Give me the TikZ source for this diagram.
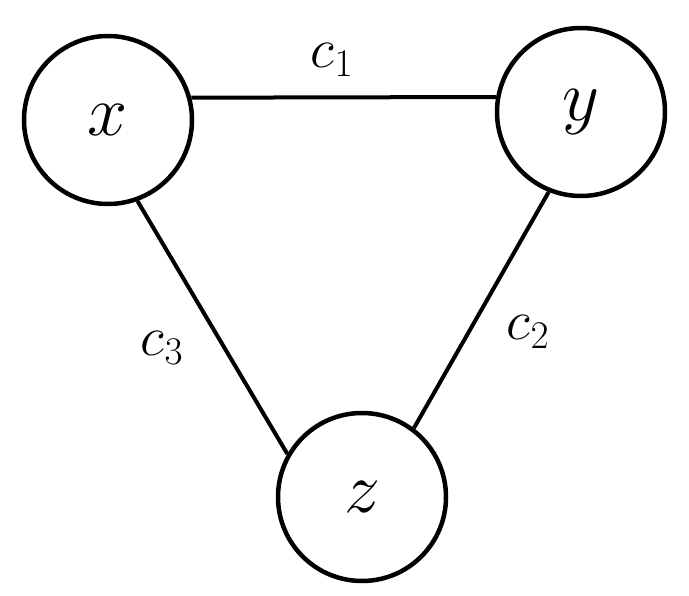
\documentclass[tikz,border=0pt]{standalone}
\usepackage{fix-cm}
\begin{document}
\begin{tikzpicture}[x=1pt,y=-1pt,
  vert/.style={circle,draw,line width=4.5pt,minimum size=168pt,inner sep=0pt,font=\fontsize{72}{72}\selectfont},
  edge/.style={line width=4pt},
  lab/.style={font=\fontsize{56}{56}\selectfont}]
\useasboundingbox (0,0) rectangle (689,596);
\node[vert] (x) at (108,120) {$x$};
\node[vert] (y) at (581,112) {$y$};
\node[vert] (z) at (362,497) {$z$};
\draw[edge] (x.15) -- (y.170);
\draw[edge] (x.-70) -- (z.150);
\draw[edge] (y.248) -- (z.53);
\node[lab] (c1) at (332,60) {$c_1$};
\node[lab] (c3) at (162,348) {$c_3$};
\node[lab] (c2) at (528,332) {$c_2$};
\end{tikzpicture}
\end{document}
